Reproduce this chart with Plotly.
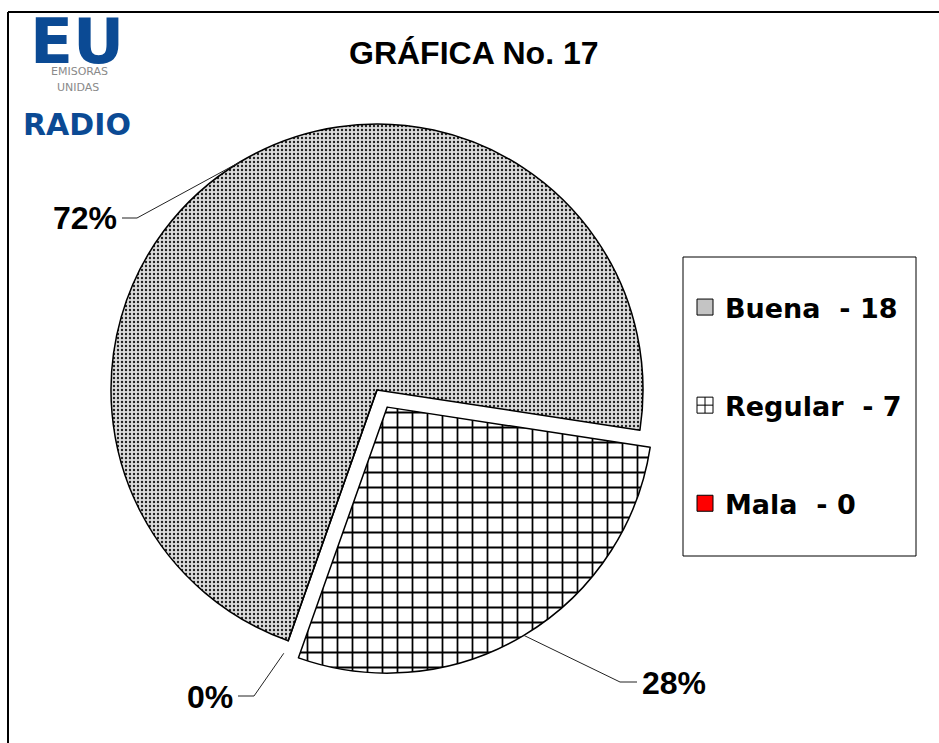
import math
import plotly.graph_objects as go

# ---------------- data ----------------
categories = ["Buena", "Regular", "Mala"]
values = [18, 7, 0]
pulls = [0.0, 0.075, 0.0]
chart_title = "GRÁFICA No. 17"
logo_lines = ["EU", "EMISORAS", "UNIDAS", "RADIO"]

# ---------------- style ----------------
W, H = 939, 743
PIE_CX, PIE_CY, PIE_R = 377, 390, 266
START_ANGLE = 199.5  # first slice start, degrees clockwise from 12 o'clock

pat_shape = [".", "+", ""]
pat_fg = ["#202020", "#000000", "#ff0000"]
pat_bg = ["#dcdcdc", "#ffffff", "#ff0000"]
pat_size = [4, 15, 8]
pat_solid = [0.28, 0.22, 0.3]
slice_colors = ["#b8b8b8", "#ffffff", "#ff0000"]
legend_symbols = ["square", "square-cross", "square"]

ARIAL = "Liberation Sans, Arial, sans-serif"
WIDE = "DejaVu Sans, Verdana, sans-serif"


def px(x):
    return x / W


def py(y):
    return 1 - y / H


total = sum(values)
pcts = [round(v * 100 / total) for v in values]

maxpull = max(pulls)
half = PIE_R * (1 + maxpull)
dom_x = [px(PIE_CX - half), px(PIE_CX + half)]
dom_y = [py(PIE_CY + half), py(PIE_CY - half)]

fig = go.Figure()
fig.add_trace(go.Pie(
    labels=categories, values=values, sort=False, direction="clockwise",
    rotation=START_ANGLE - 360, pull=pulls, textinfo="none", hoverinfo="label+value+percent",
    showlegend=False,
    marker=dict(colors=slice_colors, line=dict(color="#000000", width=1.5),
                pattern=dict(shape=pat_shape, fgcolor=pat_fg, bgcolor=pat_bg,
                             size=pat_size, solidity=pat_solid, fillmode="replace")),
    domain=dict(x=dom_x, y=dom_y),
))

# legend entries
for i, c in enumerate(categories):
    fig.add_trace(go.Scatter(
        x=[None], y=[None], mode="markers", name=f"{c}  - {values[i]}", legendgroup=c,
        marker=dict(symbol=legend_symbols[i], size=16, color=slice_colors[i] if i != 0 else "#c4c4c4",
                    line=dict(color="#000000", width=1)),
    ))

shapes = []
annotations = []

# leader lines + percentage labels
label_pos = [(85, 218), (674, 683), (210, 697)]
elbow = [((122, 218), (137, 218)), ((637, 682), (620, 682)), ((238, 696), (254, 696))]
cum = 0
for i, v in enumerate(values):
    a0 = START_ANGLE + 360 * cum / total
    mid = math.radians(a0 + 180 * v / total)
    cum += v
    rr = PIE_R * (1 + pulls[i]) * (1.05 if v == 0 else 1.0)
    tx = PIE_CX + rr * math.sin(mid)
    ty = PIE_CY - rr * math.cos(mid)
    (x1, y1), (x2, y2) = elbow[i]
    shapes.append(dict(type="path", xref="paper", yref="paper",
                       path=f"M {px(x1)} {py(y1)} L {px(x2)} {py(y2)} L {px(tx)} {py(ty)}",
                       line=dict(color="#222222", width=1)))
    lx, ly = label_pos[i]
    annotations.append(dict(x=px(lx), y=py(ly), xref="paper", yref="paper", showarrow=False,
                            text=f"{pcts[i]}%", font=dict(family=ARIAL, size=32, color="#000000", weight="bold"),
                            xanchor="center", yanchor="middle"))

# title
annotations.append(dict(x=px(474), y=py(53), xref="paper", yref="paper", showarrow=False,
                        text=chart_title, font=dict(family=ARIAL, size=32, color="#000000", weight="bold"),
                        xanchor="center", yanchor="middle"))

# logo
annotations.append(dict(x=px(77), y=py(42), xref="paper", yref="paper", showarrow=False,
                        text=logo_lines[0], font=dict(family=WIDE, size=63, color="#0b4a94", weight="bold"),
                        xanchor="center", yanchor="middle"))
annotations.append(dict(x=px(79), y=py(72), xref="paper", yref="paper", showarrow=False,
                        text=logo_lines[1], font=dict(family=WIDE, size=11, color="#8a8a8a"),
                        xanchor="center", yanchor="middle"))
annotations.append(dict(x=px(78), y=py(88), xref="paper", yref="paper", showarrow=False,
                        text=logo_lines[2], font=dict(family=WIDE, size=11, color="#8a8a8a"),
                        xanchor="center", yanchor="middle"))
annotations.append(dict(x=px(77), y=py(124), xref="paper", yref="paper", showarrow=False,
                        text=logo_lines[3], font=dict(family=WIDE, size=30, color="#0b4a94", weight="bold"),
                        xanchor="center", yanchor="middle"))

# frame lines
shapes.append(dict(type="line", xref="paper", yref="paper", x0=px(8), y0=py(12), x1=px(W), y1=py(12),
                   line=dict(color="#000000", width=2)))
shapes.append(dict(type="line", xref="paper", yref="paper", x0=px(8), y0=py(12), x1=px(8), y1=py(H),
                   line=dict(color="#000000", width=2)))
# legend box
shapes.append(dict(type="rect", xref="paper", yref="paper", x0=px(683), y0=py(257), x1=px(916), y1=py(556),
                   line=dict(color="#000000", width=1), fillcolor="rgba(0,0,0,0)"))

fig.update_layout(
    width=W, height=H, margin=dict(l=0, r=0, t=0, b=0),
    paper_bgcolor="#ffffff", plot_bgcolor="#ffffff",
    xaxis=dict(visible=False), yaxis=dict(visible=False),
    shapes=shapes, annotations=annotations,
    showlegend=True,
    legend=dict(x=px(685), y=py(283), xanchor="left", yanchor="top",
                bgcolor="rgba(0,0,0,0)", borderwidth=0, tracegroupgap=60,
                traceorder="grouped",
                font=dict(family=WIDE, size=27, color="#000000", weight="bold")),
)

fig.write_html("out.html", config={"displayModeBar": False},
               post_script="document.body.style.margin='0px';")
